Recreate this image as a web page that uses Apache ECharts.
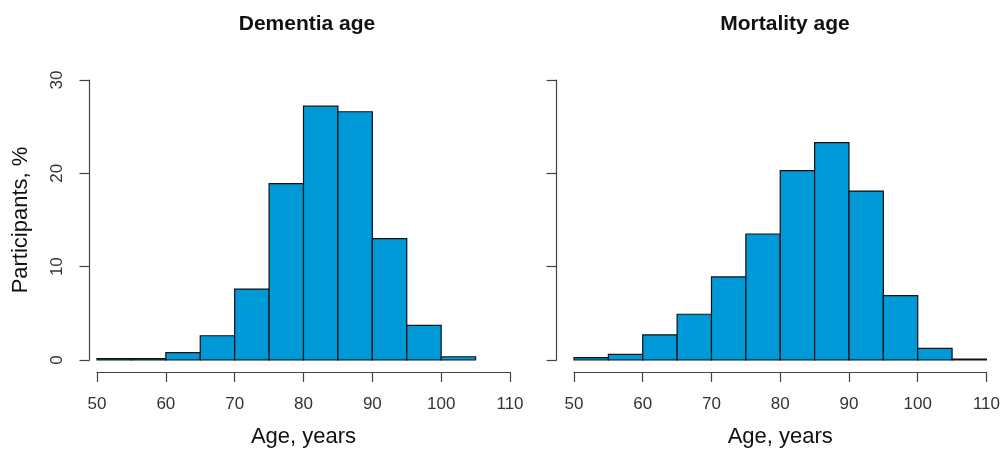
<!DOCTYPE html>
<html>
<head>
<meta charset="utf-8">
<script src="https://cdn.jsdelivr.net/npm/echarts@6/dist/echarts.min.js"></script>
<style>
html,body{margin:0;padding:0;background:#fff;}
#chart{width:1003px;height:453px;}
</style>
</head>
<body>
<div id="chart"></div>
<script>
// Bin edges (5-year bins)
const binStarts = [50, 55, 60, 65, 70, 75, 80, 85, 90, 95, 100, 105];
const binWidth = 5;
// Participants, % per bin
const dementiaPct = [0.15, 0.15, 0.8, 2.6, 7.6, 18.9, 27.2, 26.6, 13.0, 3.7, 0.35, null];
const mortalityPct = [0.25, 0.6, 2.7, 4.9, 8.9, 13.5, 20.3, 23.3, 18.1, 6.9, 1.25, 0.1];
const titles = ['Dementia age', 'Mortality age'];
const xTicks = { min: 50, max: 110, interval: 10 };
const yTicks = { min: 0, max: 30, interval: 10 };

function toData(vals) {
  const out = [];
  binStarts.forEach((s, i) => {
    if (vals[i] != null) out.push([s, s + binWidth, vals[i]]);
  });
  return out;
}

const FONT = '"Liberation Sans", Arial, sans-serif';
const AX = '#444';

function renderBar(params, api) {
  const p0 = api.coord([api.value(0), api.value(2)]);
  const p1 = api.coord([api.value(1), 0]);
  return {
    type: 'rect',
    shape: { x: p0[0], y: p0[1], width: p1[0] - p0[0], height: p1[1] - p0[1] },
    style: { fill: '#0099d8', stroke: '#111', lineWidth: 1.2 }
  };
}

const grids = [
  { left: 97, right: 493, top: 80, bottom: 92.5 },
  { left: 574, right: 16, top: 80, bottom: 92.5 }
];

function xAxis(i) {
  return {
    type: 'value', gridIndex: i, min: xTicks.min, max: xTicks.max, interval: xTicks.interval,
    offset: 12,
    name: 'Age, years', nameLocation: 'middle', nameGap: 54,
    nameTextStyle: { fontFamily: FONT, fontSize: 22, color: '#111' },
    axisLine: { show: true, onZero: false, lineStyle: { color: AX, width: 1.2 } },
    axisTick: { show: true, length: 10, lineStyle: { color: AX, width: 1.2 } },
    axisLabel: { margin: 24, fontFamily: FONT, fontSize: 17, color: '#333',
                 showMinLabel: true, showMaxLabel: true, hideOverlap: false },
    splitLine: { show: false }
  };
}
function yAxis(i, off, showLabels) {
  const a = {
    type: 'value', gridIndex: i, min: yTicks.min, max: yTicks.max, interval: yTicks.interval,
    offset: off,
    axisLine: { show: true, lineStyle: { color: AX, width: 1.2 } },
    axisTick: { show: true, length: 10, lineStyle: { color: AX, width: 1.2 } },
    axisLabel: { show: showLabels, rotate: 90, margin: 24, fontFamily: FONT, fontSize: 17, color: '#333',
                 showMinLabel: true, showMaxLabel: true },
    splitLine: { show: false }
  };
  if (showLabels) {
    a.name = 'Participants, %';
    a.nameLocation = 'middle';
    a.nameGap = 58;
    a.nameTextStyle = { fontFamily: FONT, fontSize: 22, color: '#111' };
  }
  return a;
}

const chart = echarts.init(document.getElementById('chart'), null, { renderer: 'canvas' });
chart.setOption({
  animation: false,
  backgroundColor: '#fff',
  title: [
    { text: titles[0], left: 302, top: 9, textAlign: 'center',
      textStyle: { fontFamily: FONT, fontSize: 21, fontWeight: 'bold', color: '#111' } },
    { text: titles[1], left: 780, top: 9, textAlign: 'center',
      textStyle: { fontFamily: FONT, fontSize: 21, fontWeight: 'bold', color: '#111' } }
  ],
  grid: grids,
  xAxis: [xAxis(0), xAxis(1)],
  yAxis: [yAxis(0, 7.5, true), yAxis(1, 17.5, false)],
  series: [
    { type: 'custom', xAxisIndex: 0, yAxisIndex: 0, renderItem: renderBar, data: toData(dementiaPct),
      encode: { x: [0, 1], y: 2 } },
    { type: 'custom', xAxisIndex: 1, yAxisIndex: 1, renderItem: renderBar, data: toData(mortalityPct),
      encode: { x: [0, 1], y: 2 } }
  ]
});
</script>
</body>
</html>
